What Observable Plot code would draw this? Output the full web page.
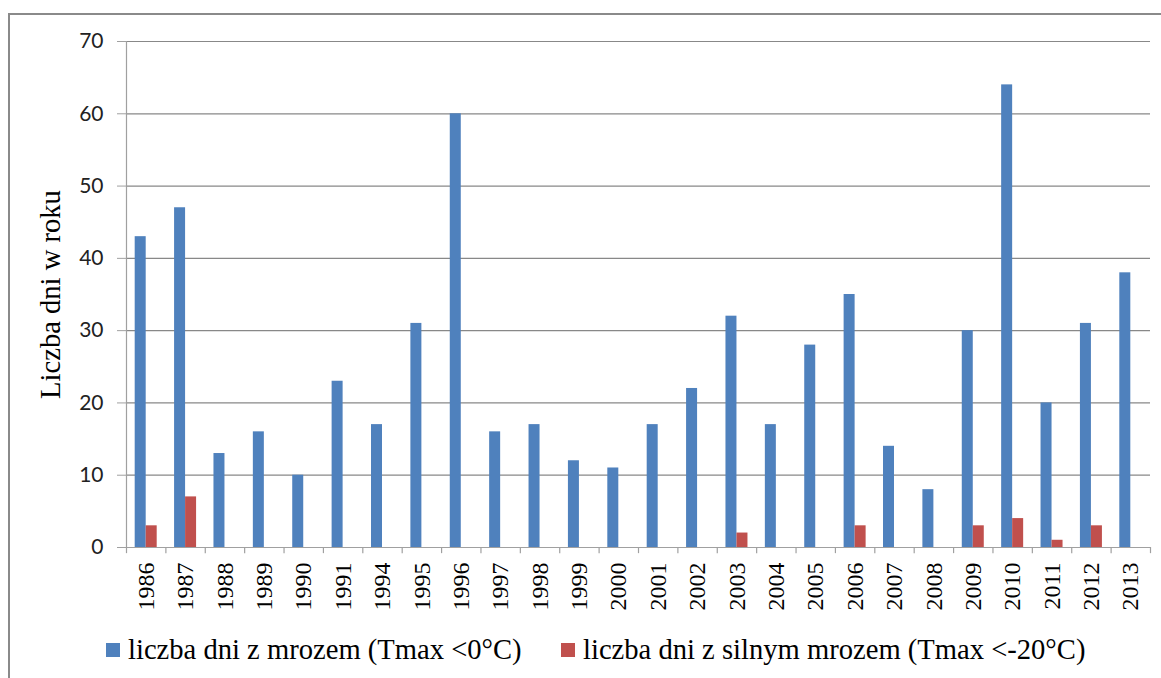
<!DOCTYPE html>
<html><head><meta charset="utf-8">
<script src="https://cdn.jsdelivr.net/npm/d3@7"></script>
<script src="https://cdn.jsdelivr.net/npm/@observablehq/plot@0.6"></script>
<style>
body{margin:0;background:#fff;width:1161px;height:678px;overflow:hidden;position:relative;font-family:"Liberation Serif","Times New Roman",serif;}
#border{position:absolute;left:8px;top:13px;width:1200px;height:720px;border:2px solid #8a8a8a;box-sizing:border-box;}
#chart{position:absolute;left:0;top:0;}
.leg{position:absolute;top:633px;height:33px;display:flex;align-items:center;font-size:28.6px;line-height:33px;color:#000;white-space:nowrap;}
.sw{width:14px;height:14px;display:inline-block;margin-right:8px;}
</style></head><body>
<div id="border"></div>
<div id="chart"></div>
<div class="leg" style="left:106px"><span class="sw" style="background:#4F81BD"></span><span id="l1"></span></div>
<div class="leg" style="left:561px"><span class="sw" style="background:#C0504D"></span><span id="l2"></span></div>
<script>
const years = ["1986","1987","1988","1989","1990","1991","1994","1995","1996","1997","1998","1999","2000","2001","2002","2003","2004","2005","2006","2007","2008","2009","2010","2011","2012","2013"];
const frostDays = [43,47,13,16,10,23,17,31,60,16,17,12,11,17,22,32,17,28,35,14,8,30,64,20,31,38];
const severeFrostDays = [3,7,0,0,0,0,0,0,0,0,0,0,0,0,0,2,0,0,3,0,0,3,4,1,3,0];
const yTicks = [0,10,20,30,40,50,60,70];
const seriesNames = ["liczba dni z mrozem (Tmax <0°C)", "liczba dni z silnym mrozem (Tmax <-20°C)"];
const yLabel = "Liczba dni w roku";

document.getElementById("l1").textContent = seriesNames[0];
document.getElementById("l2").textContent = seriesNames[1];

const rows = years.map((y, i) => ({year: y, frost: frostDays[i], severe: severeFrostDays[i]}));

const W = 1161, H = 620;
const ML = 126, MR = 11, MT = 41, MB = H - 547;
const step = (W - ML - MR) / years.length;
const bw = 11;
const gridColor = "#888888";
const axisColor = "#a0a0a0";

const chart = Plot.plot({
  width: W, height: H,
  marginLeft: ML, marginRight: MR, marginTop: MT, marginBottom: MB,
  style: {background: "transparent", overflow: "visible"},
  x: {type: "band", domain: years, padding: 0, round: false},
  y: {domain: [0, 70]},
  marks: [
    Plot.gridY(yTicks, {stroke: gridColor, strokeOpacity: 1, strokeWidth: 1.2}),
    Plot.axisY(yTicks, {tickSize: 9, tickPadding: 14, stroke: axisColor, fill: "#222", fontSize: 21, fontFamily: "Lato", label: null}),
    Plot.ruleX([years[0]], {x: d => d, dx: -step / 2, y1: 0, y2: 70, stroke: axisColor, strokeWidth: 1.2}),
    Plot.barY(rows, {x: "year", y: "frost", fill: "#4F81BD", insetLeft: step / 2 - bw, insetRight: step / 2}),
    Plot.barY(rows, {x: "year", y: "severe", fill: "#C0504D", insetLeft: step / 2, insetRight: step / 2 - bw}),
    Plot.ruleY([0], {stroke: axisColor, strokeWidth: 1.2}),
    Plot.ruleX(years, {x: d => d, dx: -step / 2, y1: 0, y2: -0.85, stroke: axisColor, strokeWidth: 1.2}),
    Plot.ruleX([years[years.length - 1]], {x: d => d, dx: step / 2, y1: 0, y2: -0.85, stroke: axisColor, strokeWidth: 1.2}),
    Plot.axisX({tickSize: 0, tickRotate: -90, tickPadding: 15, fontSize: 24, fontFamily: "Liberation Serif", fill: "#000", label: null}),
    Plot.text([yLabel], {frameAnchor: "left", textAnchor: "middle", dx: -76, rotate: -90, fontSize: 28.6, fontFamily: "Liberation Serif", fill: "#000"})
  ]
});
document.getElementById("chart").appendChild(chart);
</script>
</body></html>
